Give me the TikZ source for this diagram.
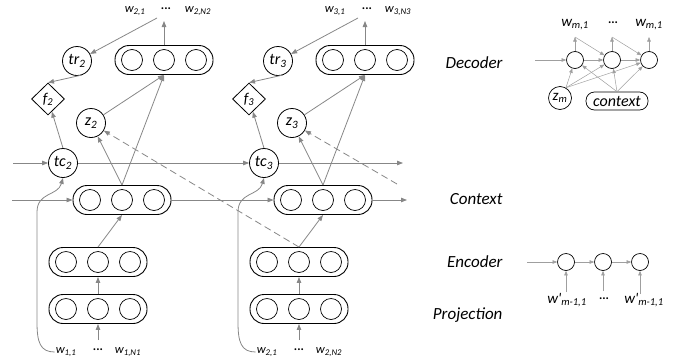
\documentclass[tikz,border=0pt]{standalone}
\usepackage{fontspec}
\setmainfont{Carlito}
\usetikzlibrary{arrows.meta,shapes.geometric}
\definecolor{linegray}{RGB}{135,135,135}
\tikzset{
  arr/.style={draw=linegray, line width=0.8pt, -{Triangle[length=6pt,width=4.5pt]}},
  thin arr/.style={draw=linegray!80, line width=0.5pt, -{Triangle[length=4.5pt,width=3.5pt]}},
  unit/.style={circle, draw, line width=0.7pt, minimum size=21pt, inner sep=0pt},
  small unit/.style={circle, draw, line width=0.7pt, minimum size=17pt, inner sep=0pt},
  pillbox/.style={draw, line width=0.9pt, rounded corners=14pt, minimum width=98pt, minimum height=29pt},
  var/.style={circle, draw, line width=0.8pt, minimum size=29pt, inner sep=0pt, font=\fontsize{16}{16}\selectfont\itshape},
  gate/.style={diamond, draw, line width=0.8pt, minimum width=33pt, minimum height=32pt, inner sep=0pt, font=\fontsize{15}{15}\selectfont\itshape},
  word/.style={font=\fontsize{12.5}{12.5}\selectfont\itshape, inner sep=1pt},
  big word/.style={font=\fontsize{15}{15}\selectfont\itshape, inner sep=1pt},
  gap/.style={font=\fontsize{12.5}{12.5}\selectfont\bfseries, inner sep=1pt, text height=2pt, text depth=0pt},
  layer/.style={anchor=east, font=\fontsize{17}{17}\selectfont\itshape},
}
% a pill with three units inside: name, x, y
\newcommand{\pill}[3]{%
  \node[pillbox] (#1) at (#2,#3) {};
  \node[unit] (#1-1) at (#2-32,#3) {};
  \node[unit] (#1-2) at (#2,#3) {};
  \node[unit] (#1-3) at (#2+32,#3) {};
}

\begin{document}
\begin{tikzpicture}[x=1pt, y=-1pt]
  \useasboundingbox (0,0) rectangle (679,362);

  % first sentence column
  \pill{proj2}{98}{309}
  \pill{enc2}{98}{262}
  \pill{ctx2}{122}{200}
  \pill{dec2}{164}{60}
  \node[var] (tc2) at (63,163) {tc\textsubscript{2}};
  \node[gate] (f2) at (48,99) {f\textsubscript{2}};
  \node[var] (tr2) at (77,61) {tr\textsubscript{2}};
  \node[var] (z2) at (91,123) {z\textsubscript{2}};
  \node[word] (wa2) at (66,352) {w\textsubscript{1,1}};
  \node[gap] (wd2) at (98,349) {...};
  \node[word] (wb2) at (128,352) {w\textsubscript{1,N1}};
  \node[word] (oa2) at (135,11) {w\textsubscript{2,1}};
  \node[gap] (od2) at (166,8) {...};
  \node[word] (ob2) at (198,11) {w\textsubscript{2,N2}};
  \coordinate (in2) at (98,340);
  \coordinate (out2) at (164,21);
  \coordinate (back2) at (157,18);

  % second sentence column
  \pill{proj3}{299}{309}
  \pill{enc3}{299}{262}
  \pill{ctx3}{323}{200}
  \pill{dec3}{365}{60}
  \node[var] (tc3) at (264,163) {tc\textsubscript{3}};
  \node[gate] (f3) at (249,99) {f\textsubscript{3}};
  \node[var] (tr3) at (278,61) {tr\textsubscript{3}};
  \node[var] (z3) at (292,123) {z\textsubscript{3}};
  \node[word] (wa3) at (267,352) {w\textsubscript{2,1}};
  \node[gap] (wd3) at (299,349) {...};
  \node[word] (wb3) at (329,352) {w\textsubscript{2,N2}};
  \node[word] (oa3) at (335,11) {w\textsubscript{3,1}};
  \node[gap] (od3) at (367,8) {...};
  \node[word] (ob3) at (398,11) {w\textsubscript{3,N3}};
  \coordinate (in3) at (299,340);
  \coordinate (out3) at (365,21);
  \coordinate (back3) at (358,18);

  % free ends of the long lines
  \coordinate (tcin) at (13,163);
  \coordinate (tcout) at (403,163);
  \coordinate (ctxin) at (12,200);
  \coordinate (ctxout) at (407,200);
  \coordinate (dashin) at (397,184);

  % column connections
  \draw[arr] (in2) -- (proj2.south);
  \draw[arr] (proj2.north) -- (enc2.south);
  \draw[arr] (enc2.north) -- (ctx2.south);
  \draw[arr] (ctx2.north) -- (z2);
  \draw[arr] (ctx2.north) -- (dec2.south);
  \draw[arr] (z2) -- (dec2.south);
  \draw[arr] (tc2.north) -- (f2);
  \draw[arr] (tr2.-70) -- (f2.north);
  \draw[arr] (dec2.north) -- (out2);
  \draw[arr] (back2) -- (tr2);
  \draw[arr] (wa2.west) .. controls (40,352) and (37,342) .. (37,322) -- (37,212)
    .. controls (37,192) and (58,196) .. (tc2.south);

  \draw[arr] (in3) -- (proj3.south);
  \draw[arr] (proj3.north) -- (enc3.south);
  \draw[arr] (enc3.north) -- (ctx3.south);
  \draw[arr] (ctx3.north) -- (z3);
  \draw[arr] (ctx3.north) -- (dec3.south);
  \draw[arr] (z3) -- (dec3.south);
  \draw[arr] (tc3.north) -- (f3);
  \draw[arr] (tr3.-70) -- (f3.north);
  \draw[arr] (dec3.north) -- (out3);
  \draw[arr] (back3) -- (tr3);
  \draw[arr] (wa3.west) .. controls (241,352) and (238,342) .. (238,322) -- (238,212)
    .. controls (238,192) and (259,196) .. (tc3.south);

  % lines across the columns
  \draw[arr] (tcin) -- (tc2);
  \draw[arr] (tc2) -- (tc3);
  \draw[arr] (tc3) -- (tcout);
  \draw[arr] (ctxin) -- (ctx2.west);
  \draw[arr] (ctx2.east) -- (ctx3.west);
  \draw[arr] (ctx3.east) -- (ctxout);
  \draw[arr, dash pattern=on 7pt off 4pt] (enc3.north) -- (z2);
  \draw[arr, dash pattern=on 7pt off 4pt] (dashin) -- (z3);

  % layer names
  \node[layer] (ldec) at (506,63) {Decoder};
  \node[layer] (lctx) at (506,199) {Context};
  \node[layer] (lenc) at (506,262) {Encoder};
  \node[layer] (lproj) at (506,315) {Projection};

  % decoder detail
  \node[small unit] (d1) at (575,60) {};
  \node[small unit] (d2) at (612,60) {};
  \node[small unit] (d3) at (649,60) {};
  \node[circle, draw, line width=0.7pt, minimum size=23pt, inner sep=0pt, font=\fontsize{15}{15}\selectfont\itshape] (zm) at (560,98) {z\textsubscript{m}};
  \node[draw, line width=0.7pt, rounded corners=8.5pt, minimum width=62pt, minimum height=18pt, inner sep=1.5pt, font=\fontsize{16}{16}\selectfont\itshape] (cx) at (617,101) {context};
  \node[big word] (dw1) at (575,25) {w\textsubscript{m,1}};
  \node[gap] (dwd) at (613,22) {...};
  \node[big word] (dw3) at (649,25) {w\textsubscript{m,1}};
  \coordinate (din) at (535,60);
  \coordinate (do1) at (575,37);
  \coordinate (do2) at (612,37);
  \coordinate (do3) at (649,37);
  \draw[thin arr] (din) -- (d1);
  \draw[thin arr] (d1) -- (d2);
  \draw[thin arr] (d2) -- (d3);
  \draw[thin arr] (d1) -- (do1);
  \draw[thin arr] (d2) -- (do2);
  \draw[thin arr] (d3) -- (do3);
  \draw[thin arr] (do1) -- (d2);
  \draw[thin arr] (do2) -- (d3);
  \draw[thin arr] (zm.60) -- (d1);
  \draw[thin arr] (zm.60) -- (d2);
  \draw[thin arr] (zm.60) -- (d3);
  \draw[thin arr] (cx.north) -- (d1);
  \draw[thin arr] (cx.north) -- (d2);
  \draw[thin arr] (cx.north) -- (d3);

  % encoder detail
  \node[small unit] (e1) at (566,262) {};
  \node[small unit] (e2) at (603,262) {};
  \node[small unit] (e3) at (640,262) {};
  \node[big word] (ew1) at (567,300) {w\textquotesingle\textsubscript{m-1,1}};
  \node[gap] (ewd) at (604,298) {...};
  \node[big word] (ew3) at (644,300) {w\textquotesingle\textsubscript{m-1,1}};
  \coordinate (ein) at (527,262);
  \coordinate (ei1) at (566,292);
  \coordinate (ei2) at (603,291);
  \coordinate (ei3) at (640,294);
  \draw[thin arr] (ein) -- (e1);
  \draw[thin arr] (e1) -- (e2);
  \draw[thin arr] (e2) -- (e3);
  \draw[thin arr] (ei1) -- (e1);
  \draw[thin arr] (ei2) -- (e2);
  \draw[thin arr] (ei3) -- (e3);
\end{tikzpicture}
\end{document}
